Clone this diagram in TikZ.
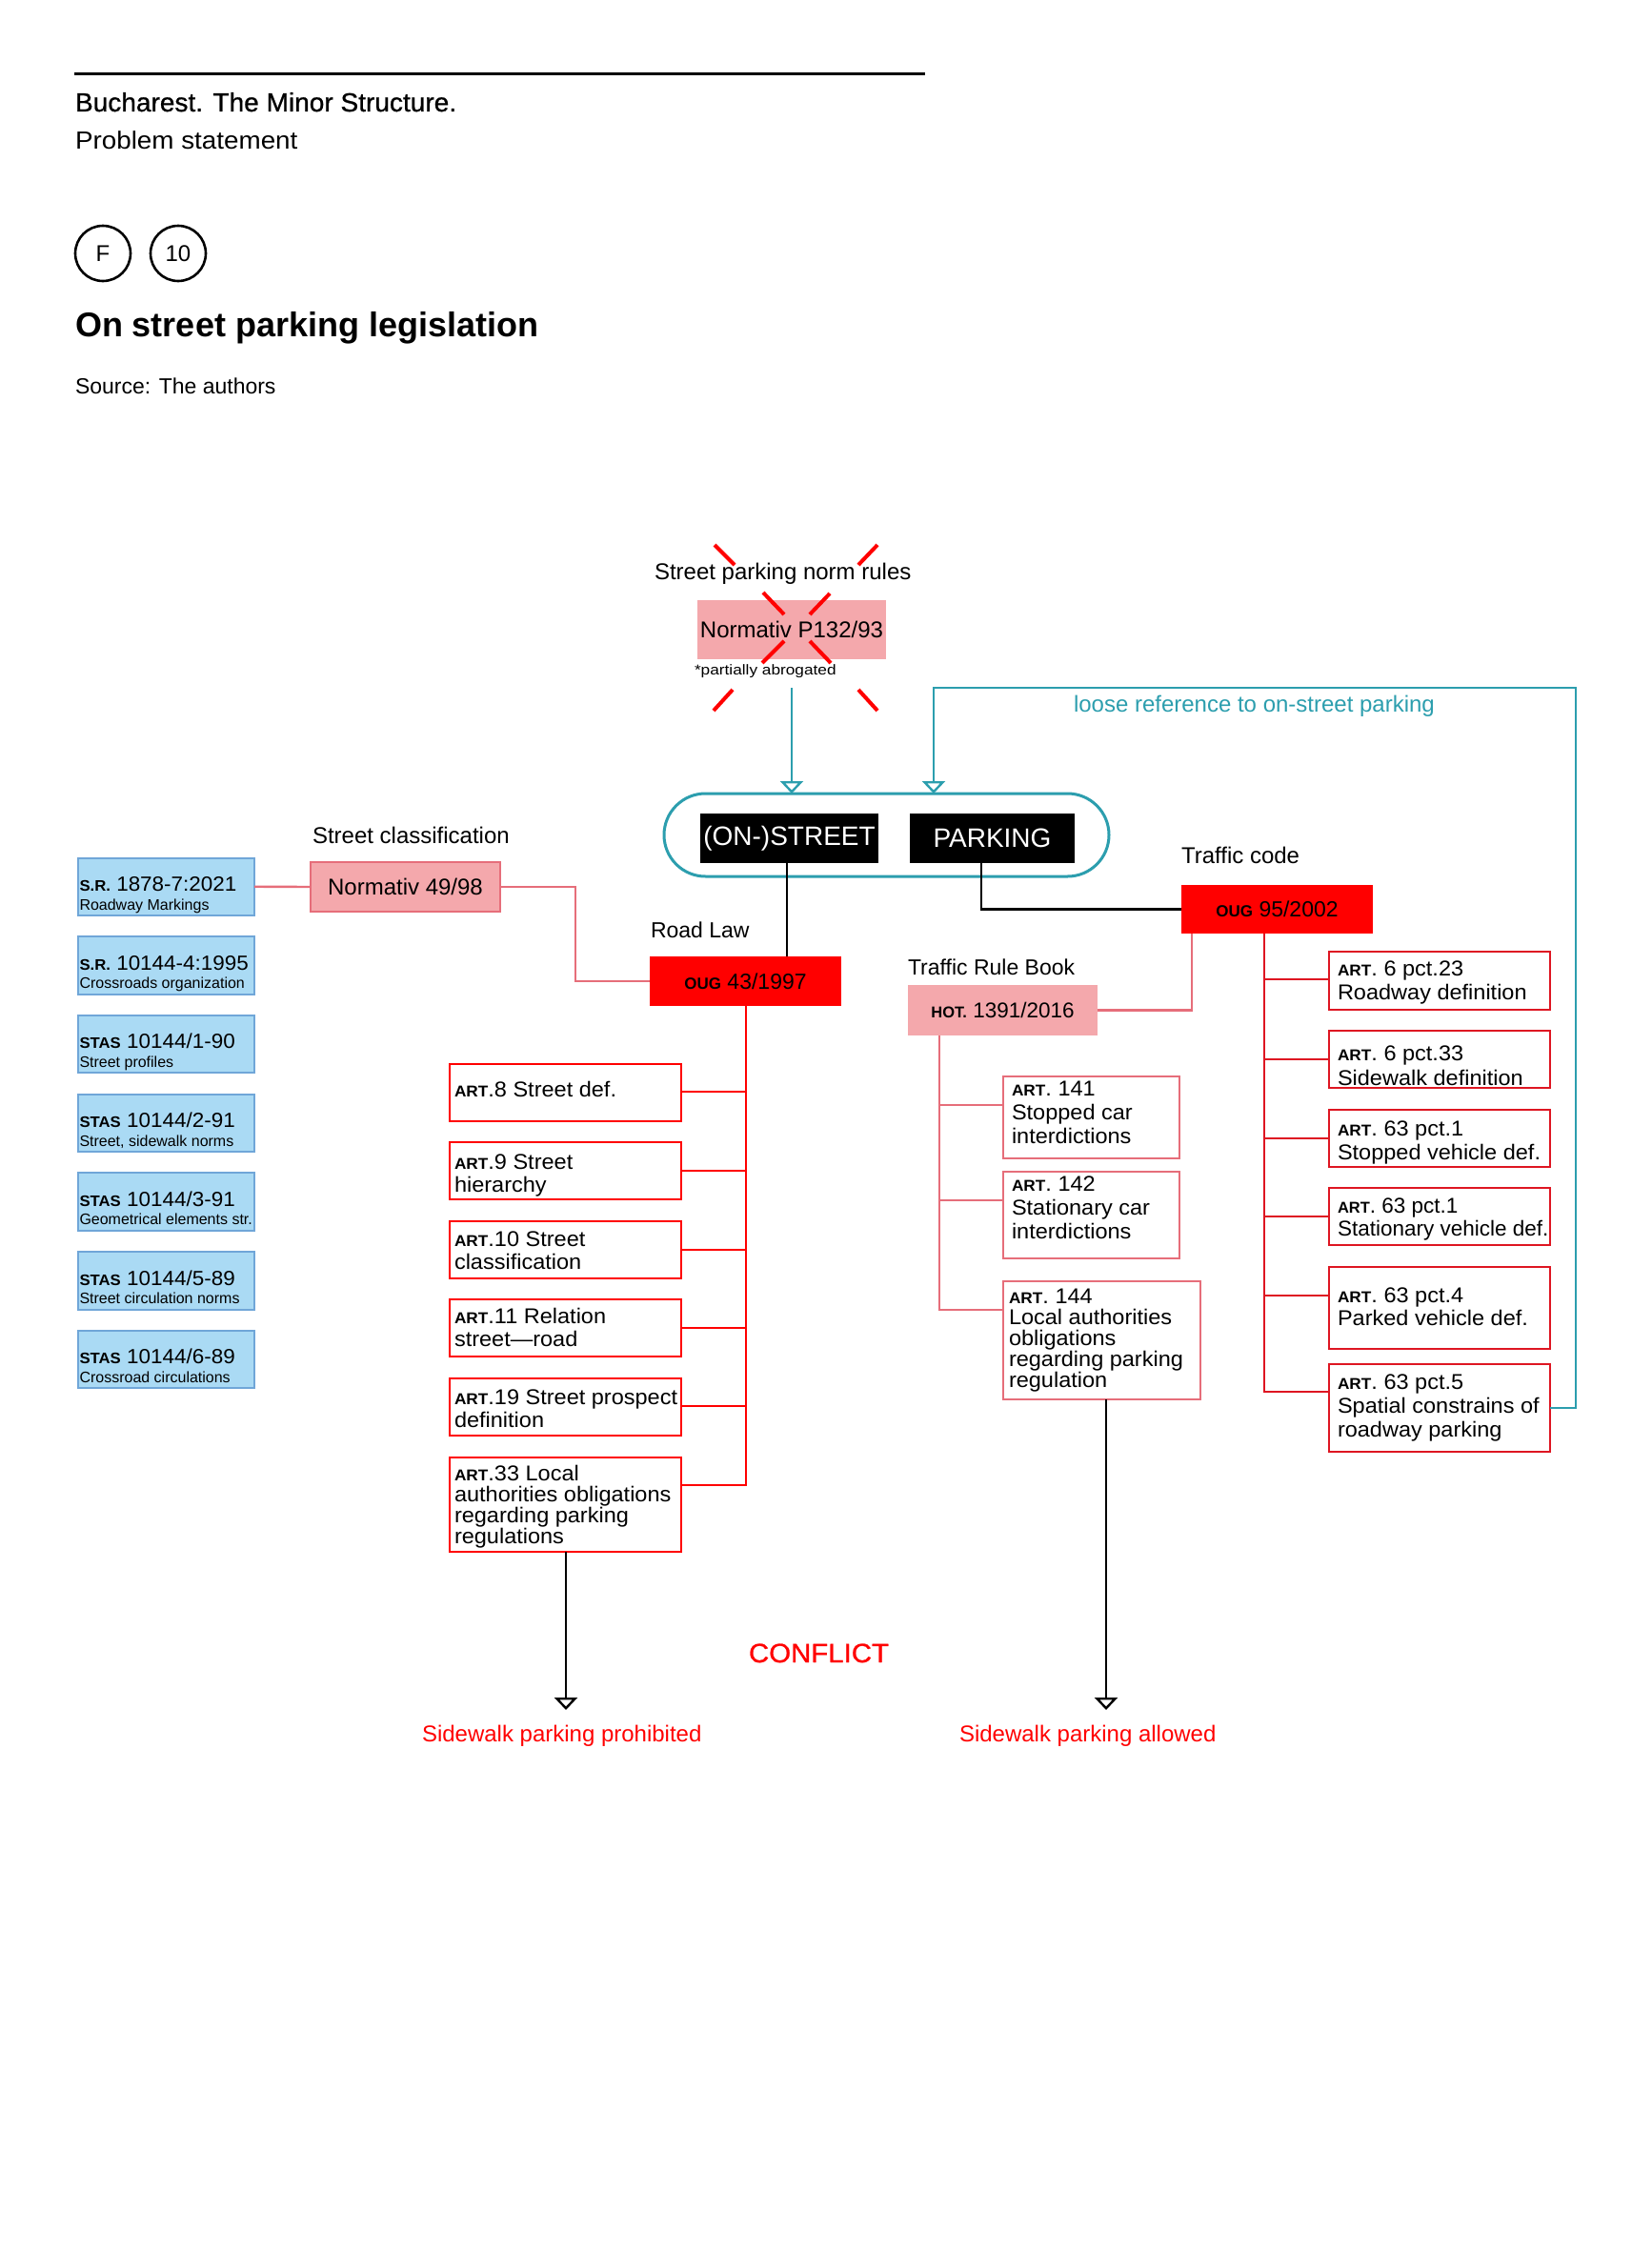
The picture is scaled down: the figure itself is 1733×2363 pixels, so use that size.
\documentclass[tikz,border=0pt]{standalone}
\usepackage{fontspec}
\setmainfont{Liberation Sans}
\newfontfamily\widefont[FakeStretch=1.045,Ligatures=TeX]{Liberation Sans}
\newfontfamily\probfont[FakeStretch=1.07]{Liberation Sans}
\newfontfamily\hdrfont[FakeBold=0.8,FakeStretch=1.02]{Liberation Sans}
\newfontfamily\conffont[FakeBold=0.9,FakeStretch=1.05]{Liberation Sans}
\newfontfamily\tinyfont[FakeStretch=1.15]{Liberation Sans}
\usetikzlibrary{arrows.meta,calc}
\definecolor{pinkfill}{RGB}{244,168,172}
\definecolor{pinkline}{RGB}{230,110,122}
\definecolor{redA}{RGB}{255,0,0}
\definecolor{redB}{RGB}{222,22,34}
\definecolor{bluefill}{RGB}{170,218,244}
\definecolor{blueline}{RGB}{112,166,216}
\definecolor{tealc}{RGB}{44,158,174}
\newcommand\fz[2]{\fontsize{#1}{#2}\selectfont}
\newcommand\scx[2]{{\fontsize{#1}{#1}\bfseries #2}}
\newcommand\ml[2]{\vtop{\baselineskip=#1\lineskiplimit=-1000pt\lineskip=0pt\halign{##\hfil\cr#2\crcr}}}
\newcommand\bx[6]{\node[#2, minimum width={#5-#3}, minimum height={#6-#4}, inner sep=0pt, outer sep=0pt] (#1) at ({(#3+#5)/2},{(#4+#6)/2}) {};}
\newcommand\bxt[7]{\node[#2, minimum width={#5-#3}, minimum height={#6-#4}, inner sep=0pt, outer sep=0pt] (#1) at ({(#3+#5)/2},{(#4+#6)/2}) {#7};}
\newcommand\blu[5]{%
  \bx{#1}{bluebox}{82}{#2}{267}{#2+60.5}
  \node[lbl, font=\widefont\fz{21.5}{22}] (#1t) at (83.5,{#2+35}) {\scx{16}{#3} #4};
  \node[lbl, font=\fz{16}{18}] (#1s) at (83.5,{#2+54.5}) {#5};}
\begin{document}
\begin{tikzpicture}[x=1pt,y=-1pt,
  lbl/.style={anchor=base west, inner sep=0pt, outer sep=0pt},
  pinkbox/.style={fill=pinkfill, draw=none, font=\fz{24}{26}},
  nbox/.style={fill=pinkfill, draw=pinkline, line width=2pt, font=\fz{24}{26}},
  redbox/.style={fill=redA, draw=none, font=\fz{23}{26}},
  blk/.style={fill=black, draw=none, text=white, font=\fz{28}{30}},
  bluebox/.style={fill=bluefill, draw=blueline, line width=2pt},
  artred/.style={fill=white, draw=redA, line width=2.6pt},
  artredB/.style={fill=white, draw=redB, line width=2.6pt},
  artpink/.style={fill=white, draw=pinkline, line width=2.4pt},
  artf/.style={lbl, font=\widefont\fz{22.5}{24}},
  redconn/.style={draw=redA, line width=2.6pt},
  redconnB/.style={draw=redB, line width=2.6pt},
  pinkconn/.style={draw=pinkline, line width=2.4pt},
  blkconn/.style={draw=black, line width=2.4pt},
  tealconn/.style={draw=tealc, line width=2.6pt},
  openarrow/.style={-{Triangle[open, length=13pt, width=24pt, line width=2.4pt]}},
  ring/.style={circle, draw, line width=2.6pt, minimum size=58pt, inner sep=0pt, font=\fz{24}{24}}
]
\fill[white] (0,0) rectangle (1733,2363);
\useasboundingbox (0,0) rectangle (1733,2363);

% header
\draw[line width=3pt] (78,77.5) -- (971,77.5);
\node[lbl, font=\hdrfont\fz{27.5}{30}] (hdr) at (79,117) {Bucharest. The Minor Structure.};
\node[lbl, font=\probfont\fz{26}{30}] (sub) at (79,157) {Problem statement};
\node[ring] (cF) at (108,266) {F};
\node[ring] (c10) at (187,266) {10};
\node[lbl, font=\fz{36}{40}\bfseries] (title) at (79,353) {On street parking legislation};
\node[lbl, font=\fz{23}{26}] (src) at (79,413) {Source: The authors};

% abrogated norm
\node[lbl, font=\fz{24}{26}] (lspn) at (687,608) {Street parking norm rules};
\bxt{p132}{pinkbox}{732}{630}{930}{692}{Normativ P132/93}
\node[lbl, font=\tinyfont\fz{15}{16}] (pabr) at (729,708) {*partially abrogated};
\foreach \xa/\ya/\xb/\yb in {750/572/771/593, 921/572/901/593, 801/622/823/645, 871/623/850/645,
  823/673/800/696, 850/673/872/696, 769/724/749/746, 901/724/921/746}
  \draw[redA, line width=4pt] (\xa,\ya) -- (\xb,\yb);

% on-street parking
\node[draw=tealc, line width=3pt, rounded corners=43.5pt, minimum width=467pt, minimum height=87pt, inner sep=0pt, outer sep=0pt] (stad) at (930.5,876.5) {};
\bxt{onst}{blk}{735}{854}{922}{906}{(ON-)STREET}
\bxt{park}{blk}{955}{854}{1128}{906}{PARKING}
\node[lbl, text=tealc, font=\fz{24}{26}] (loose) at (1127,747) {loose reference to on-street parking};

% labels
\node[lbl, font=\fz{24}{26}] (lsc) at (328,885.6) {Street classification};
\node[lbl, font=\fz{23}{26}] (lrl) at (683,984) {Road Law};
\node[lbl, font=\fz{24}{26}] (ltc) at (1240,906) {Traffic code};
\node[lbl, font=\fz{23}{26}] (ltr) at (953,1023) {Traffic Rule Book};

% main legal boxes
\bxt{n49}{nbox}{326}{905}{525}{957}{Normativ 49/98}
\bxt{oug43}{redbox}{682}{1004}{883}{1056}{\scx{17}{OUG} 43/1997}
\bxt{oug95}{redbox}{1240}{929}{1441}{980}{\scx{17}{OUG} 95/2002}
\bxt{hot}{pinkbox}{953}{1034}{1152}{1087}{\fz{22.5}{24}\scx{16.5}{HOT.} 1391/2016}

% blue standards
\blu{s1}{900.5}{S.R.}{1878-7:2021}{Roadway Markings}
\blu{s2}{983.2}{S.R.}{10144-4:1995}{Crossroads organization}
\blu{s3}{1065.9}{STAS}{10144/1-90}{Street profiles}
\blu{s4}{1148.6}{STAS}{10144/2-91}{Street, sidewalk norms}
\blu{s5}{1231.3}{STAS}{10144/3-91}{Geometrical elements str.}
\blu{s6}{1314.0}{STAS}{10144/5-89}{Street circulation norms}
\blu{s7}{1396.7}{STAS}{10144/6-89}{Crossroad circulations}

% road law articles
\bx{a8}{artred}{472}{1117}{715}{1177}
\node[artf] (a8t) at (477,1151) {\ml{24pt}{\scx{16.5}{ART}.8 Street def.}};
\bx{a9}{artred}{472}{1199}{715}{1259}
\node[artf] (a9t) at (477,1227) {\ml{24.5pt}{\scx{16.5}{ART}.9 Street\cr hierarchy}};
\bx{a10}{artred}{472}{1282}{715}{1342}
\node[artf] (a10t) at (477,1308) {\ml{24.5pt}{\scx{16.5}{ART}.10 Street\cr classification}};
\bx{a11}{artred}{472}{1364}{715}{1424}
\node[artf] (a11t) at (477,1389) {\ml{24.5pt}{\scx{16.5}{ART}.11 Relation\cr street—road}};
\bx{a19}{artred}{472}{1447}{715}{1507}
\node[artf] (a19t) at (477,1474) {\ml{24.5pt}{\scx{16.5}{ART}.19 Street prospect\cr definition}};
\bx{a33}{artred}{472}{1530}{715}{1629}
\node[artf] (a33t) at (477,1554) {\ml{22pt}{\scx{16.5}{ART}.33 Local\cr authorities obligations\cr regarding parking\cr regulations}};

% traffic rule book articles
\bx{h141}{artpink}{1053}{1130}{1238}{1216}
\node[artf] (h141t) at (1062,1150) {\ml{25pt}{\scx{16.5}{ART}. 141\cr Stopped car\cr interdictions}};
\bx{h142}{artpink}{1053}{1230}{1238}{1321}
\node[artf] (h142t) at (1062,1250) {\ml{25pt}{\scx{16.5}{ART}. 142\cr Stationary car\cr interdictions}};
\bx{h144}{artpink}{1053}{1345}{1260}{1469}
\node[artf] (h144t) at (1059,1368) {\ml{22.2pt}{\scx{16.5}{ART}. 144\cr Local authorities\cr obligations\cr regarding parking\cr regulation}};

% traffic code articles
\bx{r1}{artredB}{1395}{999}{1627}{1060}
\node[artf] (r1t) at (1404,1024) {\ml{25pt}{\scx{16.5}{ART}. 6 pct.23\cr Roadway definition}};
\bx{r2}{artredB}{1395}{1082}{1627}{1142}
\node[artf] (r2t) at (1404,1113.5) {\ml{25.5pt}{\scx{16.5}{ART}. 6 pct.33\cr Sidewalk definition}};
\bx{r3}{artredB}{1395}{1165}{1627}{1225}
\node[artf] (r3t) at (1404,1192) {\ml{25pt}{\scx{16.5}{ART}. 63 pct.1\cr Stopped vehicle def.}};
\bx{r4}{artredB}{1395}{1247}{1627}{1307}
\node[lbl, font=\fz{22.5}{24}] (r4t) at (1404,1273) {\ml{24.5pt}{\scx{16.5}{ART}. 63 pct.1\cr Stationary vehicle def.}};
\bx{r5}{artredB}{1395}{1330}{1627}{1416}
\node[artf] (r5t) at (1404,1367) {\ml{24.5pt}{\scx{16.5}{ART}. 63 pct.4\cr Parked vehicle def.}};
\bx{r6}{artredB}{1395}{1432}{1627}{1524}
\node[artf] (r6t) at (1404,1458) {\ml{25pt}{\scx{16.5}{ART}. 63 pct.5\cr Spatial constrains of\cr roadway parking}};
% bottom border of r2 drawn over its text, as in the source
\draw[redB, line width=2.6pt] (r2.south west) -- (r2.south east);

% outcomes
\node[lbl, text=redA, font=\conffont\fz{28}{30}] (confl) at (786,1745) {CONFLICT};
\node[lbl, text=redA, font=\fz{24}{26}] (prohib) at (443,1828) {Sidewalk parking prohibited};
\node[lbl, text=redA, font=\fz{24}{26}] (allow) at (1007,1828) {Sidewalk parking allowed};

% helper coordinates
\coordinate (tA) at (831,722);
\coordinate (tB) at (980,722);
\coordinate (tR) at (1654,722);
\coordinate (mL) at (783,0);
\coordinate (hL) at (986,0);
\coordinate (rL) at (1327,0);
\coordinate (nL) at (604,0);
\coordinate (hR) at (1251,0);
\coordinate (sL) at (826,0);
\coordinate (pL) at (1030,0);
\coordinate (tipL) at (594,1795);
\coordinate (tipR) at (1161,1795);

% connectors
\draw[tealconn, openarrow] (tA) -- (tA |- stad.north);
\draw[tealconn, openarrow] (r6.east) -- (r6.east -| tR) -- (tR) -- (tB) -- (tB |- stad.north);
\draw[blkconn] (onst.south -| sL) -- (sL |- oug43.north);
\draw[blkconn] (park.south -| pL) |- (oug95.west);
\draw[pinkconn] (s1.east) -- (n49.west);
\draw[pinkconn] (n49.east) -- (n49.east -| nL) |- (oug43.west);
\draw[pinkconn] (hot.east) -| (hR |- oug95.south);
\foreach \n/\o in {a8/29,a9/30,a10/30,a11/30,a19/29,a33/29}
  \draw[redconn] (oug43.south -| mL) |- ([yshift=-\o pt]\n.north east);
\foreach \n/\o in {h141/30,h142/30,h144/30}
  \draw[pinkconn] (hot.south -| hL) |- ([yshift=-\o pt]\n.north west);
\foreach \n/\o in {r1/29,r2/30,r3/30,r4/30,r5/30,r6/29}
  \draw[redconnB] (oug95.south -| rL) |- ([yshift=-\o pt]\n.north west);
\draw[blkconn, openarrow] (a33.south -| tipL) -- (tipL);
\draw[blkconn, openarrow] (h144.south -| tipR) -- (tipR);
\end{tikzpicture}
\end{document}
